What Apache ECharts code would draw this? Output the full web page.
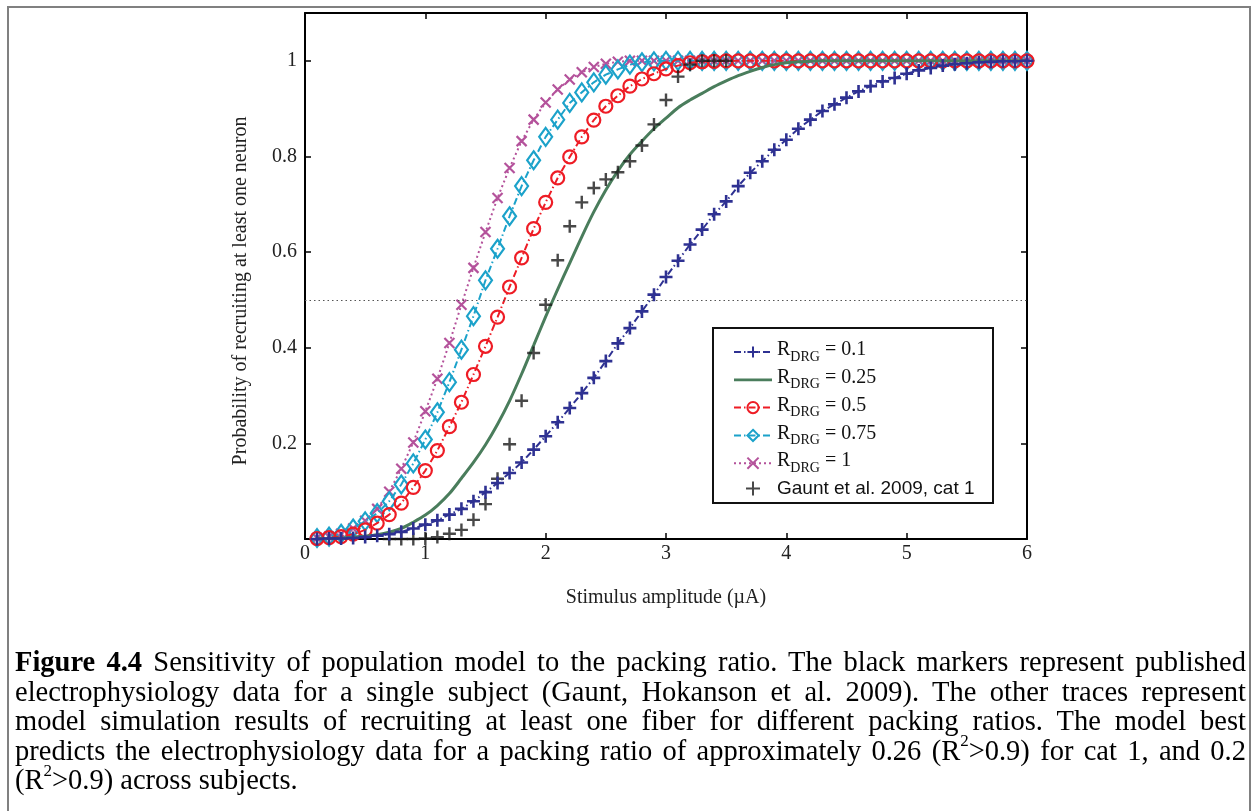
<!DOCTYPE html>
<html>
<head>
<meta charset="utf-8">
<script src="https://cdn.jsdelivr.net/npm/echarts@6/dist/echarts.min.js"></script>
<style>
  html, body { margin: 0; padding: 0; background: #fff; }
  #wrap { position: relative; width: 1252px; height: 811px; overflow: hidden; }
  #chart { position: absolute; left: 0; top: 0; width: 1252px; height: 811px; }
  #caption {
    position: absolute; left: 15px; top: 647px; width: 1231px;
    font-family: "Liberation Serif", "Times New Roman", serif;
    font-size: 28.5px; line-height: 29.5px; color: #000;
  }
  #caption .ln { text-align: justify; text-align-last: justify; white-space: nowrap; display: block; }
  #caption .last { text-align: left; text-align-last: left; }
  #caption sup { font-size: 17px; line-height: 0; position: relative; top: -3px; }
</style>
</head>
<body>
<div id="wrap">
  <div id="chart"></div>
  <div id="caption">
    <span class="ln"><b>Figure 4.4</b> Sensitivity of population model to the packing ratio. The black markers represent published</span>
    <span class="ln">electrophysiology data for a single subject (Gaunt, Hokanson et al. 2009). The other traces represent</span>
    <span class="ln">model simulation results of recruiting at least one fiber for different packing ratios. The model best</span>
    <span class="ln">predicts the electrophysiology data for a packing ratio of approximately 0.26 (R<sup>2</sup>&gt;0.9) for cat 1, and 0.2</span>
    <span class="ln last">(R<sup>2</sup>&gt;0.9) across subjects.</span>
  </div>
</div>
<script>
// Stimulus amplitudes (µA) at which the model curves are evaluated
const amplitudes = [
  0.1, 0.2, 0.3, 0.4, 0.5, 0.6, 0.7, 0.8, 0.9, 1.0,
  1.1, 1.2, 1.3, 1.4, 1.5, 1.6, 1.7, 1.8, 1.9, 2.0,
  2.1, 2.2, 2.3, 2.4, 2.5, 2.6, 2.7, 2.8, 2.9, 3.0,
  3.1, 3.2, 3.3, 3.4, 3.5, 3.6, 3.7, 3.8, 3.9, 4.0,
  4.1, 4.2, 4.3, 4.4, 4.5, 4.6, 4.7, 4.8, 4.9, 5.0,
  5.1, 5.2, 5.3, 5.4, 5.5, 5.6, 5.7, 5.8, 5.9, 6.0
];

// Probability of recruiting at least one neuron, per packing ratio R_DRG
const pR010 = [
  0.000, 0.001, 0.001, 0.002, 0.004, 0.007, 0.010, 0.015, 0.022, 0.030,
  0.039, 0.051, 0.063, 0.079, 0.098, 0.117, 0.138, 0.160, 0.187, 0.215,
  0.244, 0.274, 0.305, 0.337, 0.372, 0.409, 0.441, 0.476, 0.511, 0.548,
  0.582, 0.616, 0.647, 0.679, 0.706, 0.738, 0.766, 0.790, 0.814, 0.835,
  0.858, 0.877, 0.895, 0.909, 0.923, 0.936, 0.947, 0.957, 0.964, 0.973,
  0.980, 0.985, 0.990, 0.993, 0.995, 0.997, 0.998, 0.999, 0.999, 1.000
];
const pR025 = [
  0.0005, 0.001, 0.002, 0.004, 0.006, 0.009, 0.014, 0.022, 0.035, 0.050,
  0.070, 0.095, 0.127, 0.160, 0.197, 0.240, 0.289, 0.345, 0.405, 0.465,
  0.522, 0.577, 0.632, 0.684, 0.730, 0.770, 0.804, 0.832, 0.858, 0.880,
  0.902, 0.918, 0.932, 0.946, 0.958, 0.969, 0.978, 0.986, 0.992, 0.996,
  0.998, 0.999, 1.000, 1.000, 1.000, 1.000, 1.000, 1.000, 1.000, 1.000,
  1.000, 1.000, 1.000, 1.000, 1.000, 1.000, 1.000, 1.000, 1.000, 1.000
];
const pR050 = [
  0.001, 0.003, 0.005, 0.010, 0.019, 0.033, 0.051, 0.075, 0.108, 0.143,
  0.185, 0.235, 0.286, 0.344, 0.403, 0.464, 0.527, 0.588, 0.649, 0.704,
  0.755, 0.799, 0.841, 0.876, 0.905, 0.927, 0.947, 0.962, 0.973, 0.983,
  0.990, 0.996, 0.998, 0.999, 1.000, 1.000, 1.000, 1.000, 1.000, 1.000,
  1.000, 1.000, 1.000, 1.000, 1.000, 1.000, 1.000, 1.000, 1.000, 1.000,
  1.000, 1.000, 1.000, 1.000, 1.000, 1.000, 1.000, 1.000, 1.000, 1.000
];
const pR075 = [
  0.002, 0.005, 0.011, 0.022, 0.037, 0.054, 0.079, 0.114, 0.158, 0.208,
  0.265, 0.328, 0.396, 0.466, 0.541, 0.607, 0.675, 0.738, 0.792, 0.841,
  0.877, 0.912, 0.934, 0.955, 0.971, 0.982, 0.992, 0.997, 0.999, 1.000,
  1.000, 1.000, 1.000, 1.000, 1.000, 1.000, 1.000, 1.000, 1.000, 1.000,
  1.000, 1.000, 1.000, 1.000, 1.000, 1.000, 1.000, 1.000, 1.000, 1.000,
  1.000, 1.000, 1.000, 1.000, 1.000, 1.000, 1.000, 1.000, 1.000, 1.000
];
const pR100 = [
  0.002, 0.005, 0.011, 0.022, 0.038, 0.063, 0.099, 0.147, 0.202, 0.267,
  0.335, 0.410, 0.490, 0.567, 0.642, 0.713, 0.776, 0.832, 0.877, 0.913,
  0.940, 0.961, 0.976, 0.987, 0.994, 0.998, 1.000, 1.000, 1.000, 1.000,
  1.000, 1.000, 1.000, 1.000, 1.000, 1.000, 1.000, 1.000, 1.000, 1.000,
  1.000, 1.000, 1.000, 1.000, 1.000, 1.000, 1.000, 1.000, 1.000, 1.000,
  1.000, 1.000, 1.000, 1.000, 1.000, 1.000, 1.000, 1.000, 1.000, 1.000
];

// Published electrophysiology recruitment data (Gaunt et al. 2009, cat 1)
const gauntAmp = [
  0.7, 0.8, 0.9, 1.0, 1.1, 1.2, 1.3, 1.4, 1.5, 1.6,
  1.7, 1.8, 1.9, 2.0, 2.1, 2.2, 2.3, 2.4, 2.5, 2.6,
  2.7, 2.8, 2.9, 3.0, 3.1, 3.2, 3.3, 3.4, 3.5
];
const gauntProb = [
  0.000, 0.000, 0.000, 0.001, 0.004, 0.011, 0.019, 0.040, 0.073, 0.126,
  0.198, 0.289, 0.389, 0.490, 0.583, 0.654, 0.704, 0.734, 0.752, 0.767,
  0.790, 0.823, 0.867, 0.918, 0.967, 0.992, 1.000, 1.000, 1.000
];

const xTicks = [0, 1, 2, 3, 4, 5, 6];
const yTicks = [0.2, 0.4, 0.6, 0.8, 1];
const halfLevel = 0.5;

const legendText = {
  R010: '{r|R}{s|DRG}{r| = 0.1}',
  R025: '{r|R}{s|DRG}{r| = 0.25}',
  R050: '{r|R}{s|DRG}{r| = 0.5}',
  R075: '{r|R}{s|DRG}{r| = 0.75}',
  R100: '{r|R}{s|DRG}{r| = 1}',
  Gaunt: '{g|Gaunt et al. 2009, cat 1}'
};

const C = {
  blue: '#2e3192',
  green: '#4a7d5c',
  red: '#ee1c25',
  cyan: '#1ba2ca',
  magenta: '#b4529b',
  black: '#1a1a1a'
};

const PLUS = 'path://M0,-1L0,1M-1,0L1,0';
const CROSS = 'path://M-1,-1L1,1M-1,1L1,-1';
const BAR = 'path://M0,0L40,0L40,3L0,3Z';
const dashDot = [7, 3, 1.5, 3];
const dotted = [2, 3];

function pairs(xs, ys) { return xs.map((x, i) => [x, ys[i]]); }

const SERIF = '"Liberation Serif", "Times New Roman", serif';
const SANS = '"Liberation Sans", Arial, sans-serif';

const chart = echarts.init(document.getElementById('chart'), null, { renderer: 'canvas' });

const axisLineStyle = { color: '#000', width: 2 };
const tickStyle = { show: true, inside: true, length: 6, lineStyle: { color: '#000', width: 1.5 } };
const labelColor = '#222';

chart.setOption({
  animation: false,
  backgroundColor: '#fff',
  grid: { left: 305, top: 13, width: 722, height: 526, containLabel: false },
  xAxis: [
    {
      type: 'value', min: 0, max: 6, interval: 1, position: 'bottom',
      name: 'Stimulus amplitude (\u00b5A)', nameLocation: 'middle', nameGap: 49,
      nameTextStyle: { fontFamily: SERIF, fontSize: 20, color: labelColor },
      axisLine: { show: true, onZero: false, lineStyle: axisLineStyle },
      axisTick: tickStyle,
      axisLabel: {
        fontFamily: SERIF, fontSize: 20, color: labelColor, margin: 5,
        formatter: v => (xTicks.indexOf(v) >= 0 ? String(v) : '')
      },
      splitLine: { show: false }
    },
    {
      type: 'value', min: 0, max: 6, interval: 1, position: 'top',
      axisLine: { show: true, onZero: false, lineStyle: axisLineStyle },
      axisTick: tickStyle, axisLabel: { show: false }, splitLine: { show: false }
    }
  ],
  yAxis: [
    {
      type: 'value', min: 0, max: 1.1, interval: 0.2, position: 'left',
      axisLine: { show: true, onZero: false, lineStyle: axisLineStyle },
      axisTick: tickStyle,
      axisLabel: {
        fontFamily: SERIF, fontSize: 20, color: labelColor, margin: 8, showMaxLabel: false,
        formatter: v => {
          const r = Math.round(v * 10) / 10;
          return yTicks.indexOf(r) >= 0 ? String(r) : '';
        }
      },
      splitLine: { show: false }
    },
    {
      type: 'value', min: 0, max: 1.1, interval: 0.2, position: 'right',
      axisLine: { show: true, onZero: false, lineStyle: axisLineStyle },
      axisTick: tickStyle, axisLabel: { show: false }, splitLine: { show: false }
    }
  ],
  legend: {
    orient: 'vertical',
    left: 733, top: 340,
    itemWidth: 38, itemHeight: 14, itemGap: 3.8,
    padding: 0,
    data: [
      { name: 'R010' },
      { name: 'R025', icon: BAR },
      { name: 'R050' },
      { name: 'R075' },
      { name: 'R100' },
      { name: 'Gaunt' }
    ],
    formatter: name => legendText[name],
    textStyle: {
      color: '#111',
      rich: {
        r: { fontFamily: SERIF, fontSize: 20, lineHeight: 24, verticalAlign: 'top' },
        s: { fontFamily: SERIF, fontSize: 14, lineHeight: 10, verticalAlign: 'bottom' },
        g: { fontFamily: SANS, fontSize: 19, lineHeight: 24 }
      }
    }
  },
  graphic: [
    // figure frame
    { type: 'rect', silent: true, z: -10,
      shape: { x: 8, y: 7, width: 1242, height: 830 },
      style: { fill: 'none', stroke: '#808080', lineWidth: 2 } },
    // legend box
    { type: 'rect', silent: true, z: 5,
      shape: { x: 713, y: 328, width: 280, height: 175 },
      style: { fill: 'rgba(255,255,255,0)', stroke: '#111', lineWidth: 2 } },
    // y axis title
    { type: 'text', silent: true, x: 241, y: 291, rotation: Math.PI / 2,
      style: { text: 'Probability of recruiting at least one neuron', fontFamily: SERIF,
               fontSize: 20, fill: labelColor, align: 'center', verticalAlign: 'middle' } }
  ],
  series: [
    {
      name: 'R100', type: 'line', data: pairs(amplitudes, pR100),
      showAllSymbol: true, symbol: CROSS, symbolSize: 10,
      lineStyle: { color: C.magenta, width: 2, type: dotted },
      itemStyle: { color: C.magenta, borderColor: C.magenta, borderWidth: 2.2 },
      markLine: {
        silent: true, symbol: ['none', 'none'], label: { show: false },
        lineStyle: { color: '#555', width: 1, type: [1.5, 3] },
        data: [{ yAxis: halfLevel }]
      },
      z: 2
    },
    {
      name: 'R075', type: 'line', data: pairs(amplitudes, pR075),
      showAllSymbol: true, symbol: 'diamond', symbolSize: [13, 18],
      lineStyle: { color: C.cyan, width: 2, type: dashDot },
      itemStyle: { color: 'rgba(0,0,0,0)', borderColor: C.cyan, borderWidth: 2.2 },
      z: 3
    },
    {
      name: 'R050', type: 'line', data: pairs(amplitudes, pR050),
      showAllSymbol: true, symbol: 'circle', symbolSize: 13,
      lineStyle: { color: C.red, width: 2, type: dashDot },
      itemStyle: { color: 'rgba(0,0,0,0)', borderColor: C.red, borderWidth: 2.2 },
      z: 4
    },
    {
      name: 'R025', type: 'line', data: pairs(amplitudes, pR025),
      showSymbol: false, symbol: 'none', smooth: 0.3,
      lineStyle: { color: C.green, width: 3, type: 'solid' },
      itemStyle: { color: C.green },
      z: 5
    },
    {
      name: 'Gaunt', type: 'scatter', data: pairs(gauntAmp, gauntProb),
      symbol: PLUS, symbolSize: 13,
      itemStyle: { color: C.black, borderColor: C.black, borderWidth: 2.4 },
      z: 6
    },
    {
      name: 'R010', type: 'line', data: pairs(amplitudes, pR010),
      showAllSymbol: true, symbol: PLUS, symbolSize: 13,
      lineStyle: { color: C.blue, width: 2, type: dashDot },
      itemStyle: { color: C.blue, borderColor: C.blue, borderWidth: 2.6 },
      z: 7
    }
  ]
});
</script>
</body>
</html>
